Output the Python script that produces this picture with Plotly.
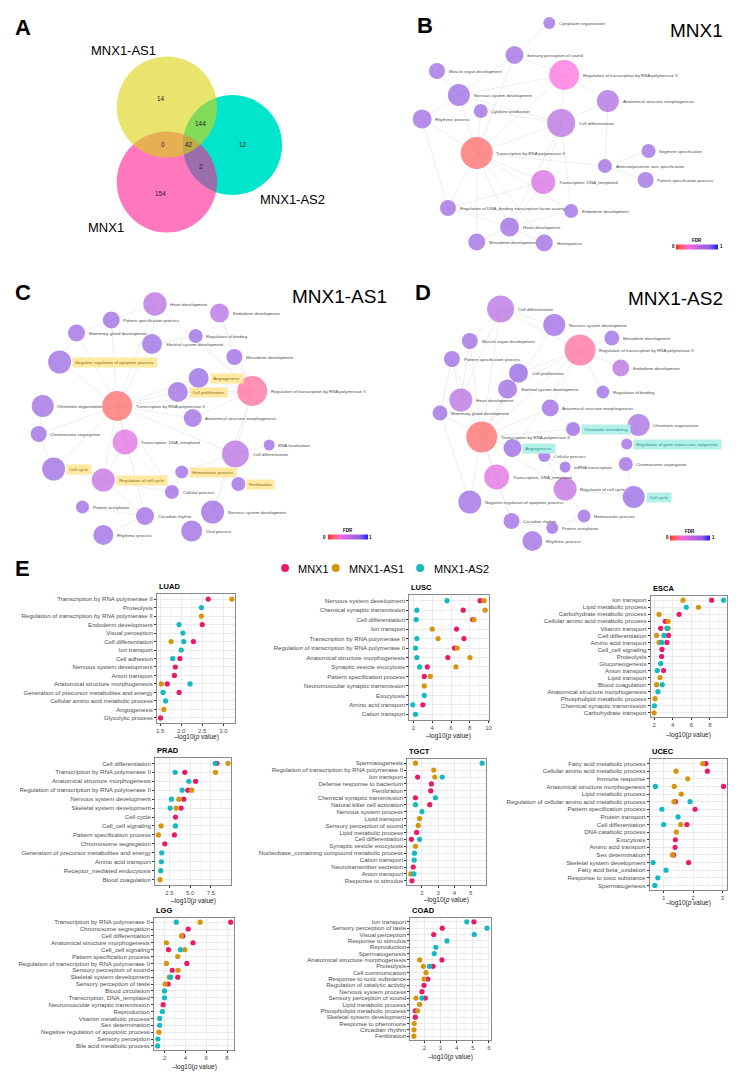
import plotly.graph_objects as go

W, H = 738, 1078
FONT = "Liberation Sans, Arial, Helvetica, sans-serif"


def fx(x):
    return x / W


def fy(y):
    return 1 - y / H


# ======================= DATA =======================
# ---- Panel A: Venn counts ----
venn_set_names = ["MNX1-AS1", "MNX1-AS2", "MNX1"]
venn_region_names = ["AS1 only", "AS1&AS2", "AS1&MNX1", "all", "AS2 only", "MNX1&AS2", "MNX1 only"]
venn_counts = [14, 144, 0, 42, 12, 2, 154]

# ---- Panel B: MNX1 network ----
B_terms = ["Cytoplasm organization", "Sensory perception of sound",
           "Regulation of transcription by RNA polymerase II", "Muscle organ development",
           "Nervous system development", "Anatomical structure morphogenesis",
           "Cytokine production", "Rhythmic process", "Cell differentiation",
           "Transcription by RNA polymerase II", "Segment specification",
           "Anterior/posterior axis specification", "Pattern specification process",
           "Transcription, DNA_templated",
           "Regulation of DNA_binding transcription factor activity",
           "Endoderm development", "Heart development", "Mesoderm development", "Hemopoiesis"]
B_fdr = [0.78, 0.78, 0.30, 0.78, 0.80, 0.66, 0.78, 0.78, 0.60, 0.12, 0.78, 0.78, 0.78,
         0.45, 0.78, 0.78, 0.78, 0.78, 0.78]
B_edges = [(9, 2), (9, 8), (9, 13), (9, 4), (9, 6), (9, 7), (9, 14), (9, 16), (9, 17), (9, 18),
           (9, 15), (9, 11), (9, 1), (2, 8), (2, 1), (2, 5), (2, 4), (8, 5), (8, 13), (8, 16),
           (8, 15), (8, 4), (8, 6), (5, 11), (11, 10), (11, 12), (4, 3), (4, 7), (1, 0), (1, 4),
           (16, 17), (16, 18), (16, 15), (16, 14), (13, 16), (13, 14), (7, 14)]

# ---- Panel C: MNX1-AS1 network ----
C_terms = ["Heart development", "Endoderm development", "Pattern specification process",
           "Mammary gland development", "Regulation of binding", "Skeletal system development",
           "Mesoderm development", "Negative regulation of apoptotic process", "Angiogenesis",
           "Regulation of transcription by RNA polymerase II", "Cell proliferation",
           "Chromatin organization", "Transcription by RNA polymerase II",
           "Anatomical structure morphogenesis", "Chromosome segregation",
           "Transcription, DNA_templated", "RNA localization", "Cell differentiation",
           "Cell cycle", "Homeostatic process", "Regulation of cell cycle", "Fertilization",
           "Cellular process", "Protein acetylation", "Circadian rhythm",
           "Nervous system development", "Viral process", "Rhythmic process"]
C_fdr = [0.60, 0.62, 0.80, 0.80, 0.80, 0.80, 0.80, 0.80, 0.81, 0.20, 0.80, 0.78, 0.12, 0.80,
         0.80, 0.42, 0.80, 0.60, 0.80, 0.80, 0.55, 0.80, 0.80, 0.80, 0.80, 0.80, 0.80, 0.80]
C_highlight = [7, 8, 10, 18, 19, 20, 21]
C_edges = [(12, 7), (12, 3), (12, 2), (12, 5), (12, 10), (12, 13), (12, 15), (12, 11), (12, 14),
           (12, 18), (12, 20), (12, 24), (12, 22), (12, 9), (12, 17), (12, 8), (12, 0),
           (9, 1), (9, 6), (9, 4), (9, 8), (9, 10), (9, 17), (9, 13), (9, 25), (9, 0),
           (17, 21), (17, 19), (17, 16), (17, 25), (20, 22), (20, 24), (20, 18), (24, 23),
           (24, 27), (26, 25), (22, 19), (0, 2), (0, 5), (3, 7), (2, 3), (11, 14), (14, 18),
           (15, 20), (15, 22), (5, 4), (1, 6)]

# ---- Panel D: MNX1-AS2 network ----
D_terms = ["Cell differentiation", "Nervous system development", "Mesoderm development",
           "Muscle organ development", "Regulation of transcription by RNA polymerase II",
           "Pattern specification process", "Endoderm development", "Cell proliferation",
           "Skeletal system development", "Regulation of binding", "Heart development",
           "Anatomical structure morphogenesis", "Mammary gland development",
           "Chromatin remodeling", "Chromatin organization",
           "Transcription by RNA polymerase II", "Regulation of gene expression, epigenetic",
           "Angiogenesis", "Cellular process", "Chromosome segregation", "mRNA transcription",
           "Transcription, DNA_templated", "Regulation of cell cycle", "Cell cycle",
           "Negative regulation of apoptotic process", "Homeostatic process",
           "Circadian rhythm", "Protein acetylation", "Rhythmic process"]
D_fdr = [0.60, 0.80, 0.78, 0.80, 0.20, 0.80, 0.62, 0.82, 0.80, 0.80, 0.60, 0.80, 0.80, 0.81,
         0.72, 0.12, 0.80, 0.81, 0.80, 0.80, 0.80, 0.42, 0.55, 0.81, 0.80, 0.80, 0.80, 0.80,
         0.80]
D_highlight = [13, 16, 17, 23]
D_edges = [(15, 0), (15, 3), (15, 5), (15, 10), (15, 12), (15, 8), (15, 7), (15, 11), (15, 17),
           (15, 18), (15, 21), (15, 22), (15, 24), (15, 26), (15, 4), (15, 13), (15, 1),
           (4, 0), (4, 1), (4, 2), (4, 6), (4, 9), (4, 11), (4, 7), (4, 8), (4, 21),
           (0, 3), (0, 1), (0, 10), (5, 10), (5, 12), (12, 24), (3, 10), (14, 13), (14, 19),
           (19, 23), (23, 22), (22, 18), (22, 20), (22, 25), (21, 26), (26, 27), (26, 28),
           (25, 27), (16, 14), (20, 18), (13, 11)]

# ---- Panel E: enrichment dot plots (-log10 p value) ----
genes = ["MNX1", "MNX1-AS1", "MNX1-AS2"]

LUAD_terms = ["Transcription by RNA polymerase II", "Proteolysis",
              "Regulation of transcription by RNA polymerase II", "Endoderm development",
              "Visual perception", "Cell differentiation", "Ion transport", "Cell adhesion",
              "Nervous system development", "Anion transport",
              "Anatomical structure morphogenesis",
              "Generation of precursor metabolites and energy",
              "Cellular amino acid metabolic process", "Angiogenesis", "Glycolytic process"]
LUAD_MNX1 = [2.64, None, None, 2.50, None, 2.29, None, 1.97, 1.86, 1.84, 1.67, 1.95, None, None, 1.51]
LUAD_AS1 = [3.20, None, 2.48, None, None, 1.76, None, None, None, None, 1.53, None, None, 1.59, None]
LUAD_AS2 = [None, 2.48, None, 1.95, 2.04, 2.06, 2.00, 1.80, None, None, 2.21, 1.57, 1.63, None, None]

LUSC_terms = ["Nervous system development", "Chemical synaptic transmission",
              "Cell differentiation", "Ion transport", "Transcription by RNA polymerase II",
              "Regulation of transcription by RNA polymerase II",
              "Anatomical structure morphogenesis", "Synaptic vesicle exocytosis",
              "Pattern specification process", "Neuromuscular synaptic transmission",
              "Exocytosis", "Amino acid transport", "Cation transport"]
LUSC_MNX1 = [9.10, 7.30, 8.31, 6.59, 7.38, 6.37, 5.66, 3.47, 3.15, None, None, 3.00, None]
LUSC_AS1 = [9.53, 9.63, 8.45, 4.00, 4.62, 6.66, 8.02, 6.52, 3.79, 3.15, None, None, None]
LUSC_AS2 = [5.58, 2.36, 2.29, None, 2.36, 2.22, 2.36, 2.65, None, None, 3.15, 1.93, 2.22]

ESCA_terms = ["Ion transport", "Lipid metabolic process", "Carbohydrate metabolic process",
              "Cellular amino acid metabolic process", "Vitamin transport",
              "Cell differentiation", "Amino acid transport", "Cell_cell signaling",
              "Proteolysis", "Gluconeogenesis", "Anion transport", "Lipid transport",
              "Blood coagulation", "Anatomical structure morphogenesis",
              "Phospholipid metabolic process", "Chemical synaptic transmission",
              "Carbohydrate transport"]
ESCA_MNX1 = [8.18, None, 4.69, 3.20, 2.71, 3.55, 3.38, 2.85, 2.81, None, 3.02, None, None, None, None, None, None]
ESCA_AS1 = [5.11, 6.77, 2.53, 3.52, 3.52, 2.28, 2.53, None, None, None, None, 2.64, 2.28, None, 2.11, None, 2.00]
ESCA_AS2 = [9.46, 5.46, None, None, 3.38, 3.06, 2.81, None, None, 2.71, 2.35, None, 2.88, 2.42, None, 2.04, None]

PRAD_terms = ["Cell differentiation", "Transcription by RNA polymerase II",
              "Anatomical structure morphogenesis",
              "Regulation of transcription by RNA polymerase II",
              "Nervous system development", "Skeletal system development", "Cell cycle",
              "Cell_cell signaling", "Pattern specification process",
              "Chromosome segregation", "Generation of precursor metabolites and energy",
              "Amino acid transport", "Receptor_mediated endocytosis", "Blood coagulation"]
PRAD_MNX1 = [8.23, 4.35, 5.65, 4.72, 4.23, 3.91, 3.23, None, 3.10, 1.94, None, None, None, None]
PRAD_AS1 = [9.56, 8.06, None, 5.20, 3.63, 3.31, None, 1.49, 1.17, None, None, None, None, 1.37]
PRAD_AS2 = [8.02, 3.19, 4.84, 4.03, 2.74, 2.58, None, 3.23, None, None, 1.57, 1.53, 1.45, None]

TGCT_terms = ["Spermatogenesis", "Regulation of transcription by RNA polymerase II",
              "Ion transport", "Defense response to bacterium", "Fertilization",
              "Chemical synaptic transmission", "Natural killer cell activation",
              "Nervous system process", "Lipid transport", "Sensory perception of sound",
              "Lipid metabolic process", "Cell differentiation",
              "Synaptic vesicle exocytosis",
              "Nucleobase_containing compound metabolic process", "Cation transport",
              "Neurotransmitter secretion", "Anion transport", "Response to stimulus"]
TGCT_MNX1 = [None, None, 1.73, 2.58, 2.54, 1.60, 2.48, None, None, None, 1.67, 1.35, None, None, None, 1.46, None, 1.38]
TGCT_AS1 = [1.60, 2.73, 2.79, None, None, None, None, None, 1.85, 1.77, None, None, 1.60, None, None, None, 1.31, None]
TGCT_AS2 = [5.71, None, 3.25, None, None, 2.83, 1.60, 2.00, None, None, None, 1.85, None, 1.54, 1.52, None, 1.50, None]

UCEC_terms = ["Fatty acid metabolic process", "Cellular amino acid metabolic process",
              "Immune response", "Anatomical structure morphogenesis",
              "Lipid metabolic process",
              "Regulation of cellular amino acid metabolic process",
              "Pattern specification process", "Protein transport", "Cell differentiation",
              "DNA catabolic process", "Exocytosis", "Amino acid transport",
              "Sex determination", "Skeletal system development",
              "Fatty acid beta_oxidation", "Response to toxic substance", "Spermatogenesis"]
UCEC_MNX1 = [2.44, 2.49, None, 3.04, None, 1.40, 2.07, None, 1.79, None, 1.40, 1.39, 1.34, 1.85, None, None, None]
UCEC_AS1 = [2.33, 1.42, 1.82, 1.36, 1.60, 1.35, None, None, 1.58, 1.43, None, None, 1.30, None, None, None, None]
UCEC_AS2 = [None, None, None, 0.72, None, 1.90, 0.94, 1.49, 1.00, None, None, None, None, 0.64, 1.08, 0.80, 0.70]

LGG_terms = ["Transcription by RNA polymerase II", "Chromosome segregation",
             "Cell differentiation", "Anatomical structure morphogenesis",
             "Cell_cell signaling", "Pattern specification process",
             "Regulation of transcription by RNA polymerase II",
             "Sensory perception of sound", "Skeletal system development",
             "Sensory perception of taste", "Blood circulation",
             "Transcription, DNA_templated", "Neuromuscular synaptic transmission",
             "Reproduction", "Vitamin metabolic process", "Sex determination",
             "Negative regulation of apoptotic process", "Sensory perception",
             "Bile acid metabolic process"]
LGG_MNX1 = [8.36, 4.26, 3.74, 4.72, 2.36, None, 4.13, 2.72, 3.25, 2.33, None, None, 1.84, None, None, None, None, None, None]
LGG_AS1 = [5.41, None, 3.61, 2.16, 3.93, 3.25, 2.16, 3.28, 2.43, 2.03, None, None, None, None, None, None, 1.44, None, None]
LGG_AS2 = [3.11, None, None, None, 3.51, None, None, None, 2.56, None, 1.97, 1.97, None, 1.77, 1.51, 1.51, None, 1.34, 1.31]

COAD_terms = ["Ion transport", "Sensory perception of taste", "Visual perception",
              "Response to stimulus", "Reproduction", "Spermatogenesis",
              "Anatomical structure morphogenesis", "Proteolysis", "Cell communication",
              "Response to toxic substance", "Regulation of catalytic activity",
              "Nervous system process", "Sensory perception of sound",
              "Lipid metabolic process", "Phospholipid metabolic process",
              "Skeletal system development", "Response to pheromone", "Circadian rhythm",
              "Fertilization"]
COAD_MNX1 = [5.07, 3.11, 2.58, None, None, None, 3.09, 2.54, None, 2.21, 1.98, 1.85, 2.06, None, 1.44, 1.44, None, None, None]
COAD_AS1 = [None, None, None, None, None, None, 1.71, 1.94, 2.10, 1.98, None, None, 1.48, 1.71, 1.58, None, 1.37, 1.35, 1.35]
COAD_AS2 = [4.63, 5.88, 5.09, 3.40, 2.71, 2.61, None, 2.31, None, None, None, None, 1.85, None, None, None, None, None, None]

# ======================= LAYOUT / STYLE CONSTANTS =======================
gene_colors = ["#ea1a6b", "#d6950f", "#14b9c1"]
FDR_SCALE = [[0, "#ff2626"], [0.12, "#ff6060"], [0.3, "#ff66dd"], [0.45, "#d462e0"],
             [0.6, "#b462e0"], [0.8, "#935de0"], [1, "#1c1cff"]]

# network node geometry (page px) – layout only
B_xy = [(552, 23), (517, 55), (567, 75), (439, 71), (461, 95), (611, 101), (483, 111),
        (424, 119), (564, 123), (479, 153), (652, 151), (608, 166), (649, 180), (546, 182),
        (450, 208), (574, 211), (512, 227), (479, 242), (547, 243)]
B_r = [6, 9, 15, 8, 11, 11, 7, 9.5, 14, 16, 7, 7, 8, 12, 8, 7, 9.5, 8.5, 8.5]
C_xy = [(155, 304), (220, 313), (111, 320), (76, 333), (196, 336), (152, 344), (235, 357),
        (59, 362), (199, 378), (253, 391), (178, 392), (42, 406), (117, 406), (193, 418),
        (38, 434), (125, 442), (270, 445), (236, 454), (53, 469), (182, 472), (103, 480),
        (239, 484), (172, 492), (82, 507), (145, 516), (213, 512), (192, 531), (103, 535)]
C_r = [11.7, 9.5, 8.5, 8.5, 7, 10, 8, 11.5, 10, 15, 10, 11, 15, 9, 8, 12.5, 5.5, 13.5,
       11.5, 6.5, 11.5, 7, 7, 6.5, 9, 11.5, 10.5, 10]
D_xy = [(503, 309), (557, 325), (615, 338), (472, 341), (583, 350), (454, 359), (624, 368),
        (521, 373), (510, 389), (606, 392), (463, 400), (553, 408), (442, 413), (576, 429),
        (642, 425), (484, 437), (630, 444), (515, 448), (547, 456), (629, 464), (568, 467),
        (499, 477), (568, 489), (637, 497), (472, 502), (587, 516), (514, 521), (555, 528),
        (535, 541)]
D_r = [13.5, 11, 7.5, 8, 15.5, 8, 8.5, 9.5, 9.5, 6.5, 11.5, 8.5, 7.5, 7, 11, 15.5, 5.5, 9,
       6, 7, 5.5, 12.5, 11.5, 11, 11.5, 6.5, 8, 6, 10]

traces = []
annotations = []
shapes = []
layout = {}


def ann(text, x, y, size, color="black", xanchor="center", yanchor="middle", **kw):
    d = dict(text=text, x=fx(x), y=fy(y), xref="paper", yref="paper", showarrow=False,
             xanchor=xanchor, yanchor=yanchor, font=dict(size=size, color=color, family=FONT))
    d.update(kw)
    annotations.append(d)


# ---------------- Panel letters & titles ----------------
for letter, x, y in [("A", 22, 27), ("B", 427, 25), ("C", 22, 292), ("D", 425, 292), ("E", 22, 568)]:
    ann("<b>%s</b>" % letter, x, y, 22)
ann("MNX1", 700, 30, 19)
ann("MNX1-AS1", 341, 297, 19)
ann("MNX1-AS2", 679, 298, 19)

# ---------------- Panel A: Venn ----------------
circ = {"MNX1-AS2": (233, 145, 50, "#00e5cc", 1.0),
        "MNX1": (167, 182, 50.5, "rgb(255,30,147)", 0.6),
        "MNX1-AS1": (167, 107, 50.5, "rgb(217,210,13)", 0.6)}
for name in ["MNX1-AS2", "MNX1", "MNX1-AS1"]:
    cx, cy, r, col, op = circ[name]
    shapes.append(dict(type="circle", xref="paper", yref="paper", x0=fx(cx - r), x1=fx(cx + r),
                       y0=fy(cy + r), y1=fy(cy - r), fillcolor=col, opacity=op,
                       line=dict(width=0), layer="below"))
venn_label_pos = [(123, 50), (293, 199), (106, 227)]
for name, (x, y) in zip(venn_set_names, venn_label_pos):
    ann(name, x, y, 13)
venn_num_pos = [(161, 98), (201, 123), (163, 145), (189, 145), (244, 145), (201, 167), (161, 193)]
for c, (x, y) in zip(venn_counts, venn_num_pos):
    ann(str(c), x, y, 6.5, color="#222")


# ---------------- Networks ----------------
def add_network(idx, box, terms, fdr, xy, rs, edges, highlight, hl_bg, hl_fg, cb):
    x0, y0, x1, y1 = box
    xa, ya = "x%d" % idx, "y%d" % idx
    layout["xaxis%d" % idx] = dict(domain=[fx(x0), fx(x1)], range=[x0, x1], visible=False,
                                   fixedrange=True)
    layout["yaxis%d" % idx] = dict(domain=[fy(y1), fy(y0)], range=[y1, y0], visible=False,
                                   fixedrange=True)
    xs = [p[0] for p in xy]
    ys = [p[1] for p in xy]
    ex, ey = [], []
    for a, b in edges:
        ex += [xs[a], xs[b], None]
        ey += [ys[a], ys[b], None]
    traces.append(go.Scatter(x=ex, y=ey, mode="lines", xaxis=xa, yaxis=ya,
                             line=dict(color="#e6e6e6", width=0.7), hoverinfo="skip",
                             showlegend=False))
    cx, cy, ln = cb
    traces.append(go.Scatter(
        x=xs, y=ys, mode="markers", xaxis=xa, yaxis=ya, text=terms, hoverinfo="text",
        showlegend=False,
        marker=dict(size=[2 * r for r in rs], color=fdr, colorscale=FDR_SCALE, cmin=0, cmax=1,
                    line=dict(width=0), showscale=True,
                    colorbar=dict(orientation="h", x=fx(cx), xanchor="center", y=fy(cy),
                                  yanchor="middle", len=ln, lenmode="pixels", thickness=5,
                                  thicknessmode="pixels", outlinewidth=0, showticklabels=False,
                                  ticks="", xpad=0, ypad=0))))
    ann("<b>FDR</b>", cx, cy - 7, 4.5)
    ann("<b>0</b>", cx - ln / 2 - 3, cy, 4.5)
    ann("<b>1</b>", cx + ln / 2 + 3, cy, 4.5)
    for i, t in enumerate(terms):
        d = dict(text=t, x=xs[i] + rs[i] + (1.0 if i in highlight else 1.8), y=ys[i],
                 xref=xa, yref=ya, showarrow=False, xanchor="left", yanchor="middle",
                 font=dict(size=4.4, color="#4a4a4a", family=FONT))
        if i in highlight:
            d["bgcolor"] = hl_bg
            d["borderpad"] = 2.2
            d["font"]["color"] = hl_fg
        annotations.append(d)


add_network(20, (360, 0, 738, 290), B_terms, B_fdr, B_xy, B_r, B_edges, [], None, None,
            (701, 247, 42))
add_network(21, (0, 282, 370, 580), C_terms, C_fdr, C_xy, C_r, C_edges, C_highlight,
            "#ffe8a0", "#8a6a12", (349, 537, 40))
add_network(22, (370, 282, 738, 580), D_terms, D_fdr, D_xy, D_r, D_edges, D_highlight,
            "#b3f0e8", "#23908c", (694, 538, 40))

# ---------------- Panel E legend ----------------
legend_pos = [(286, 297), (337, 348), (422, 434)]
for g, col, (dx, tx) in zip(genes, gene_colors, legend_pos):
    shapes.append(dict(type="circle", xref="paper", yref="paper", x0=fx(dx - 4), x1=fx(dx + 4),
                       y0=fy(568 + 4), y1=fy(568 - 4), fillcolor=col, line=dict(width=0)))
    ann(g, tx, 568.5, 11, xanchor="left")

# ---------------- Panel E dot plots ----------------
panels = [
    ("LUAD", LUAD_terms, [LUAD_MNX1, LUAD_AS1, LUAD_AS2], (157, 594, 236, 723), 0.5, ".1f", 737),
    ("LUSC", LUSC_terms, [LUSC_MNX1, LUSC_AS1, LUSC_AS2], (411, 595, 491, 720), 2, "d", 736),
    ("ESCA", ESCA_terms, [ESCA_MNX1, ESCA_AS1, ESCA_AS2], (654, 596, 731, 717), 2, "d", 735),
    ("PRAD", PRAD_terms, [PRAD_MNX1, PRAD_AS1, PRAD_AS2], (155, 758, 232, 885), 2.5, ".1f", 901),
    ("TGCT", TGCT_terms, [TGCT_MNX1, TGCT_AS1, TGCT_AS2], (409, 759, 488, 885), 1, "d", 900),
    ("UCEC", UCEC_terms, [UCEC_MNX1, UCEC_AS1, UCEC_AS2], (653, 759, 731, 890), 1, "d", 903),
    ("LGG", LGG_terms, [LGG_MNX1, LGG_AS1, LGG_AS2], (154, 918, 235, 1050), 2, "d", 1067),
    ("COAD", COAD_terms, [COAD_MNX1, COAD_AS1, COAD_AS2], (412, 918, 493, 1040), 1, "d", 1057),
]

for k, (name, terms, series, box, dt, fmt, xt_y) in enumerate(panels, start=1):
    x0, y0, x1, y1 = box
    sfx = "" if k == 1 else str(k)
    vals = [v for s in series for v in s if v is not None]
    lo, hi = min(vals), max(vals)
    pad = 0.05 * (hi - lo)
    n = len(terms)
    layout["xaxis" + sfx] = dict(
        domain=[fx(x0), fx(x1)], range=[lo - pad, hi + pad], dtick=dt, tick0=0, tickformat=fmt,
        showgrid=True, gridcolor="#ebebeb", gridwidth=0.6, zeroline=False,
        showline=True, mirror=True, linecolor="#8a8a8a", linewidth=0.8,
        ticks="outside", ticklen=2, tickwidth=0.5, tickcolor="#333",
        tickfont=dict(size=6, color="#4d4d4d", family=FONT),
        minor=dict(dtick=dt / 2, showgrid=True, gridcolor="#f5f5f5", gridwidth=0.4),
        anchor="y" + sfx, fixedrange=True)
    layout["yaxis" + sfx] = dict(
        domain=[fy(y1), fy(y0)], range=[n - 0.4, -0.6], tickvals=list(range(n)), ticktext=terms,
        showgrid=True, gridcolor="#ebebeb", gridwidth=0.6, zeroline=False,
        showline=True, mirror=True, linecolor="#8a8a8a", linewidth=0.8,
        ticks="outside", ticklen=2, tickwidth=0.5, tickcolor="#333",
        tickfont=dict(size=6.1, color="#4d4d4d", family=FONT),
        anchor="x" + sfx, fixedrange=True)
    for g, col, s in zip(genes, gene_colors, series):
        traces.append(go.Scatter(x=s, y=list(range(n)), mode="markers", name=g,
                                 xaxis="x" + sfx, yaxis="y" + sfx, showlegend=False,
                                 marker=dict(size=5.2, color=col, line=dict(width=0)),
                                 text=terms, hovertemplate="%{text}: %{x}<extra>" + g + "</extra>"))
    ann("<b>%s</b>" % name, x0, y0 - 1.5, 7.5, xanchor="left", yanchor="bottom")
    ann("\u2013log10(<i>p</i> value)", (x0 + x1) / 2, xt_y, 6.5, color="#222")

fig = go.Figure(data=traces)
fig.update_layout(**layout)
fig.update_layout(width=W, height=H, margin=dict(l=0, r=0, t=0, b=0), autosize=False,
                  paper_bgcolor="white", plot_bgcolor="white", showlegend=False,
                  annotations=annotations, shapes=shapes,
                  font=dict(family=FONT, color="#222"))
fig.write_html("out.html",
               config={"displayModeBar": False, "staticPlot": False},
               post_script="document.body.style.margin='0px';"
                           "document.body.style.padding='0px';"
                           "document.documentElement.style.overflow='hidden';")
